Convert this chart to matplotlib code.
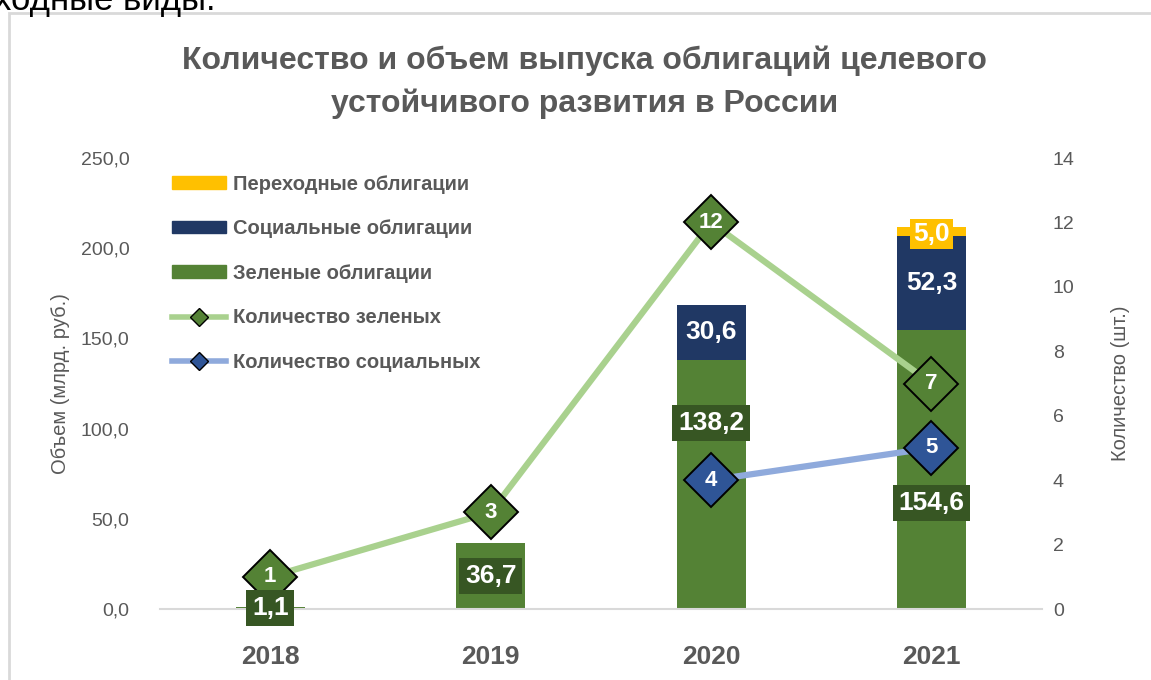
import matplotlib.pyplot as plt
import numpy as np
from matplotlib.patches import Patch, Rectangle
from matplotlib.lines import Line2D
from matplotlib.ticker import FuncFormatter, MultipleLocator

plt.rcParams['font.family'] = ['Liberation Sans', 'DejaVu Sans']

years = ['2018', '2019', '2020', '2021']
green_vol = [1.1, 36.7, 138.2, 154.6]
social_vol = [0.0, 0.0, 30.6, 52.3]
transit_vol = [0.0, 0.0, 0.0, 5.0]
green_cnt = [1, 3, 12, 7]
social_cnt_years = [2, 3]
social_cnt = [4, 5]

GREY = '#595959'
C_GREEN = '#548235'
C_GREEN_DARK = '#375623'
C_NAVY = '#203864'
C_YELLOW = '#FFC000'
C_LINE_G = '#A9D18E'
C_LINE_B = '#8FAADC'
C_MARK_B = '#2F5597'

fig = plt.figure(figsize=(11.51, 6.80), dpi=100)
ax = fig.add_axes([0.139, 0.1044, 0.766, 0.6632])
ax2 = ax.twinx()

# frame around the chart block and the cut-off line of text above it
fig.patches.append(Rectangle((9 / 1151, -0.1), 1.2, 1 - 13 / 680 + 0.1,
                             transform=fig.transFigure, fill=False,
                             ec='#D9D9D9', lw=2))
fig.text(-6 / 1151, 1 - 10 / 680, 'ходные виды.', fontsize=25,
         color='black', va='baseline', ha='left')

x = np.arange(len(years))
w = 0.313
green = np.array(green_vol)
social = np.array(social_vol)
transit = np.array(transit_vol)

ax.bar(x, green, w, color=C_GREEN, zorder=2)
ax.bar(x, social, w, bottom=green, color=C_NAVY, zorder=2)
ax.bar(x, transit, w, bottom=green + social, color=C_YELLOW, zorder=2)

ax.set_xlim(-0.5, 3.5)
ax.set_ylim(0, 250)
ax.yaxis.set_major_locator(MultipleLocator(50))
ax.yaxis.set_major_formatter(FuncFormatter(lambda v, p: f'{v:.1f}'.replace('.', ',')))
ax.set_xticks(x)
ax.set_xticklabels(years, fontsize=19, fontweight='bold', color=GREY)
ax.tick_params(axis='x', length=0, pad=26)
ax.tick_params(axis='y', length=0, labelsize=14, labelcolor=GREY, pad=22)
for s in ['top', 'right', 'left']:
    ax.spines[s].set_visible(False)
ax.spines['bottom'].set_color('#D9D9D9')
ax.spines['bottom'].set_linewidth(1.5)
ax.set_ylabel('Объем (млрд. руб.)', fontsize=14.5, color=GREY, labelpad=8)

ax2.set_ylim(0, 14)
ax2.yaxis.set_major_locator(MultipleLocator(2))
ax2.tick_params(axis='y', length=0, labelsize=14, labelcolor=GREY, pad=8)
for s in ['top', 'right', 'left', 'bottom']:
    ax2.spines[s].set_visible(False)
ax2.set_ylabel('Количество (шт.)', fontsize=14.5, color=GREY, labelpad=26)

ax2.plot(x, green_cnt, color=C_LINE_G, lw=4.5, zorder=3,
         marker='D', ms=28, mfc=C_GREEN, mec='black', mew=1.4)
ax2.plot(social_cnt_years, social_cnt, color=C_LINE_B, lw=4.5, zorder=3,
         marker='D', ms=28, mfc=C_MARK_B, mec='black', mew=1.4)


def fmt(v):
    return f'{v:.1f}'.replace('.', ',')


# value labels on the bars, drawn above the count lines
green_label_at = {0: green[0] / 2, 1: green[1] / 2, 2: 103, 3: 58.8}
for i in range(len(years)):
    ax2.text(x[i], green_label_at[i], fmt(green[i]), transform=ax.transData,
             ha='center', va='center', fontsize=19, fontweight='bold',
             color='white', zorder=4,
             bbox=dict(boxstyle='square,pad=0.22', fc=C_GREEN_DARK, ec='none'))
    if social[i] > 0:
        ax2.text(x[i], green[i] + social[i] / 2, fmt(social[i]),
                 transform=ax.transData, ha='center', va='center',
                 fontsize=19, fontweight='bold', color='white', zorder=4)
    if transit[i] > 0:
        ax2.text(x[i], green[i] + social[i] + transit[i] / 2 - 1.5,
                 fmt(transit[i]), transform=ax.transData, ha='center',
                 va='center', fontsize=19, fontweight='bold', color='white',
                 zorder=4,
                 bbox=dict(boxstyle='square,pad=0.12', fc=C_YELLOW, ec='none'))

# counts inside the diamond markers
for xi, c in zip(x, green_cnt):
    ax2.text(xi, c, str(c), ha='center', va='center', fontsize=16,
             fontweight='bold', color='white', zorder=6)
for xi, c in zip(social_cnt_years, social_cnt):
    ax2.text(xi, c, str(c), ha='center', va='center', fontsize=16,
             fontweight='bold', color='white', zorder=6)

handles = [
    Patch(color=C_YELLOW, label='Переходные облигации'),
    Patch(color=C_NAVY, label='Социальные облигации'),
    Patch(color=C_GREEN, label='Зеленые облигации'),
    Line2D([0], [0], color=C_LINE_G, lw=4, marker='D', ms=9, mfc=C_GREEN,
           mec='black', label='Количество зеленых'),
    Line2D([0], [0], color=C_LINE_B, lw=4, marker='D', ms=9, mfc=C_MARK_B,
           mec='black', label='Количество социальных'),
]
leg = ax2.legend(handles=handles, loc='upper left', bbox_to_anchor=(0.0, 0.99),
                 frameon=False, handlelength=2.7, handleheight=0.6,
                 labelspacing=1.27, handletextpad=0.35, borderaxespad=0.2,
                 prop={'size': 14.5, 'weight': 'bold'})
leg.set_zorder(7)
for t in leg.get_texts():
    t.set_color(GREY)

fig.text(0.508, 1 - 61 / 680, 'Количество и объем выпуска облигаций целевого',
         ha='center', va='center', fontsize=23, fontweight='bold', color=GREY)
fig.text(0.508, 1 - 104 / 680, 'устойчивого развития в России',
         ha='center', va='center', fontsize=23, fontweight='bold', color=GREY)

fig.savefig('out.png', dpi=100)
